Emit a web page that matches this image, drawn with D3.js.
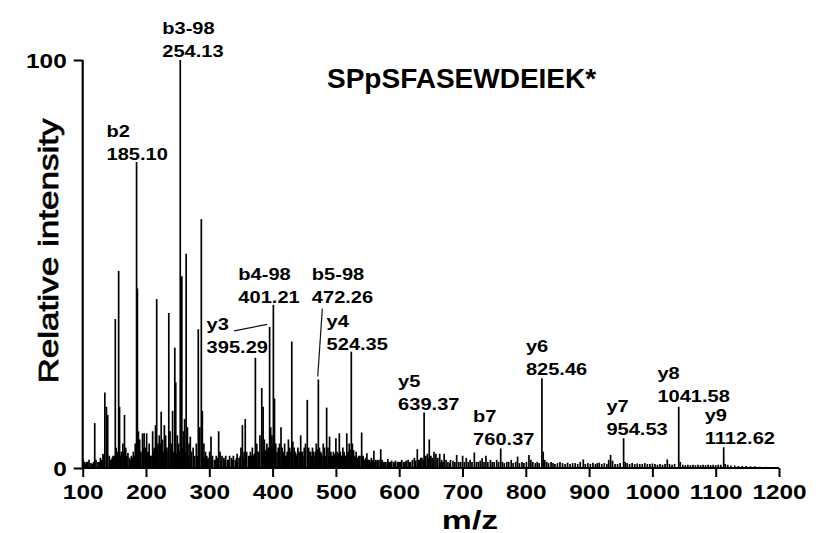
<!DOCTYPE html>
<html>
<head>
<meta charset="utf-8">
<script src="https://cdn.jsdelivr.net/npm/d3@7"></script>
<style>
  html, body { margin: 0; padding: 0; background: #fff; }
  svg { display: block; }
  text { font-family: "Liberation Sans", Arial, Helvetica, sans-serif; fill: #000; }
</style>
</head>
<body>
<svg id="chart" width="834" height="533"></svg>
<script>
// ---- spectrum data: fragment-ion m/z and relative intensity (%) ----
const peakMz = [
  101, 103, 106, 110, 113, 119, 124, 128, 132, 135, 137.5, 139.5, 142, 145, 148,
  151.5, 153, 156.8, 158.2, 161, 163.5, 166, 168, 171.5, 174, 177, 180, 183, 186.4,
  188, 190, 192, 194.5, 197, 199, 201, 203, 205, 208, 210.5, 213, 215, 216.9, 219,
  221, 224, 226, 229, 231, 233, 236, 238, 240, 242, 245.5, 247, 249.5, 251.5,
  255.5, 256.6, 259, 261, 263.4, 265.5, 268, 270, 272, 274.5, 277, 279.5, 282.6,
  285, 287.4, 289, 291.5, 294, 296, 298, 300.5, 302.7, 305, 308, 311, 314.8, 317,
  320, 323, 326, 329, 332, 335, 338, 341, 344, 347, 350, 352.3, 355, 356.8, 359,
  362, 365, 368, 370, 372.8, 375, 377, 380, 382.9, 385, 387, 389, 391, 393, 397,
  399, 403, 405, 407, 409, 411, 413.3, 415, 417, 419, 421, 423, 425, 427, 430.3,
  432, 434, 436, 438, 440, 442, 444.4, 446, 448, 450, 452, 454.8, 457, 459, 461,
  463, 465, 467, 469, 474, 476, 478, 480, 482, 485.4, 487.5, 490, 492, 494, 496,
  498, 500, 502, 505.4, 507, 509, 511, 513, 515, 517.2, 519, 521, 526, 528, 530,
  532, 534, 536, 538, 540.7, 543, 545, 547, 549, 551, 553, 556, 560, 563, 566, 568,
  570.8, 573, 576, 579, 582, 585, 588, 591, 594, 597, 600, 604, 607, 611, 614, 618,
  621, 624, 628.6, 632, 636, 642, 644.5, 647.5, 650, 652, 655, 658, 661, 664, 667,
  671, 674, 677, 681, 685, 688, 690.8, 694, 697, 700.2, 703, 706, 709, 712, 715,
  718.7, 722, 725, 728, 731, 734, 737, 740, 744, 747, 750, 754, 757, 763, 766, 770,
  773, 777, 780, 784, 787, 790, 794, 797, 801, 805, 808, 811, 815, 818, 821, 827.5,
  830, 833, 836, 840, 843, 846, 850, 854, 858, 862, 866, 870, 874, 878, 882, 886,
  890.8, 894, 898, 902, 906, 910, 913, 916, 920, 924, 928, 931, 934, 937, 941, 945,
  949, 957, 960, 964, 968, 972, 976, 980, 984, 988, 992, 996, 1000, 1004, 1008,
  1012, 1016, 1020, 1023.5, 1027, 1031, 1035, 1044, 1048, 1052, 1056, 1060, 1064,
  1068, 1072, 1076, 1080, 1084, 1088, 1092, 1096, 1100, 1104, 1108, 1115, 1119,
  1124, 1130, 1136, 1142, 1148, 1155, 1162, 1170, 1180,
  // low-level background ions between the major fragments
  104, 108, 115, 117, 121, 126, 130, 133.5, 143.5, 146.5, 150, 154.5, 160, 165,
  169.5, 175.5, 178.5, 181.5, 191, 196, 200, 204, 207, 212, 218, 223, 228, 232,
  235, 239, 244, 248.5, 253, 258, 262, 267, 271, 276, 281, 284, 290, 293, 297,
  303.5, 309.5, 313, 319, 324.5, 330.5, 336.5, 343, 349, 353.5, 358, 364, 367,
  371, 374, 378.5, 384, 388, 392, 394, 398, 400, 404, 410, 414, 418, 422, 426,
  429, 435, 439, 443, 447, 451, 456, 460, 464, 468, 471, 473, 477, 481, 484,
  489, 493, 497, 501, 504, 508, 512, 516, 520, 523, 525, 529, 533, 537, 541.8,
  546, 550, 555, 558, 562, 565, 572, 575, 578, 583, 587, 593, 599, 602, 609,
  616, 626, 630, 634, 638, 641, 646, 649, 654, 660, 666, 669, 680
];
const peakIntensity = [
  2, 1.5, 1.5, 2, 1.2, 11, 1.5, 2.5, 3.5, 18.5, 15, 13, 3, 2, 3,
  36.5, 5, 48.3, 15, 4, 6, 13, 5, 3.7, 2.5, 3, 4, 6, 44,
  9, 7, 4, 8.5, 8.5, 5, 8.5, 4, 6, 3, 9, 5, 10.5, 41.4, 6,
  8, 13.8, 7, 10.5, 8, 5, 38, 9, 6, 14, 29.5, 21, 8, 6,
  16.6, 47, 9, 12, 52.5, 10, 6, 7.7, 4, 5, 3, 6, 34,
  10, 61, 14, 6, 4, 3, 2.5, 4, 7.7, 3, 2, 3, 9, 4,
  3, 2.5, 3, 2, 3, 2.5, 3, 2, 3.5, 2.5, 5, 10.5, 4, 12, 4,
  3, 4, 5, 3, 27, 6, 4, 8, 19.6, 15, 7, 4, 6, 5, 10,
  8, 17, 6, 4, 5, 6, 10, 5, 4, 6, 3, 4, 7, 5, 31,
  6.5, 5, 4, 3, 5, 4, 8, 4, 3, 5, 6, 16.7, 5, 4, 3,
  5, 4, 3, 6, 5, 4, 3, 6, 5, 14.8, 5, 7.7, 4, 3, 4,
  3, 7.3, 4, 8.5, 4, 3, 5, 4, 3, 8.5, 4, 6, 6, 4.4, 3,
  4, 2.5, 3, 3, 8.7, 3, 2, 2.5, 3.6, 2, 2, 2.5, 4.2, 2, 2, 2,
  4.6, 2, 1.5, 1.5, 2.2, 1.5, 1.8, 1.5, 1.8, 1.5, 1.5, 2, 1.5, 1.8, 2, 1.5,
  2, 2.5, 4.6, 2, 2.5, 3, 3.5, 7, 3, 2.5, 4, 3.5, 2.5, 3.5, 2,
  3.5, 2, 1.5, 2, 1.8, 1.5, 3.2, 1.5, 1.5, 3, 1.5, 2.5, 1.5, 2, 1.5,
  3.8, 1.5, 1.5, 1.8, 2.4, 1.5, 3, 1.5, 2, 1.5, 1.5, 2, 1.5, 1.5, 1.2, 1.5,
  1.5, 2, 1.2, 1.5, 2.8, 1.2, 1.5, 1.2, 1.5, 3.2, 2, 1.5, 1.2, 1.5, 1.2, 4,
  2, 1.5, 1.2, 1.5, 1.2, 1, 1.2, 1.5, 1.2, 1, 1.3, 1, 1.2, 1.2, 1, 1.5,
  2.1, 1, 1.2, 1, 1.3, 1, 1.2, 1.3, 1, 1.2, 1, 2, 3.2, 1.8, 1, 1,
  1.2, 1.5, 1.2, 1, 1.2, 1, 1.1, 1, 1, 1.2, 1, 1, 1.1, 1, 0.8,
  1, 0.8, 1, 2.1, 1, 0.8, 1, 1.5, 0.8, 0.7, 0.8, 0.7, 0.8,
  0.7, 0.8, 0.7, 0.8, 0.7, 0.8, 0.7, 0.8, 0.7, 0.8, 0.8, 1, 0.8,
  0.6, 0.6, 0.5, 0.5, 0.5, 0.4, 0.4, 0.3, 0.3,
  1, 1.5, 1, 1.5, 2, 1.5, 2, 3, 2, 2.5, 3, 4, 3, 4,
  3, 2, 2.5, 3, 4, 5, 4, 3.5, 3, 4, 5, 6, 4, 5,
  4, 5, 4, 3.5, 4, 5, 4, 3, 3.5, 2.5, 3, 4, 3, 2.5, 2,
  2.5, 2, 2.5, 2, 2, 2, 2, 2.5, 3, 2.5, 3.5, 3, 3,
  3.5, 3, 4, 4, 4.5, 4, 5, 4.5, 5, 4, 4, 3.5, 3.5, 3, 4,
  4, 3.5, 3.5, 3, 4, 3.5, 3.5, 4, 3, 4, 4.5, 4, 3.5, 3.5, 3,
  3, 3, 3.5, 3, 3.5, 3, 3, 3, 4, 4.5, 3, 2.5, 2.5, 2, 2.5,
  2, 2, 1.5, 2, 1.5, 1.8, 1.5, 1.5, 1.5, 1.5, 1.5, 1.2, 1.5, 1.5, 1.5,
  1.5, 1.8, 2, 2.5, 2, 2, 2.5, 2, 2, 2, 1.5, 1.5, 1.2
];

// ---- annotated fragment ions ----
const ionNames = ["b2", "b3-98", "y3", "b4-98", "b5-98", "y4", "y5", "b7", "y6", "y7", "y8", "y9"];
const ionMz = [185.10, 254.13, 395.29, 401.21, 472.26, 524.35, 639.37, 760.37, 825.46, 954.53, 1041.58, 1112.62];
const ionIntensity = [75, 100, 34.6, 40, 21.7, 28.5, 13.6, 4.8, 22, 7.3, 15, 5.1];

// ---- axes ----
const xTicks = [100, 200, 300, 400, 500, 600, 700, 800, 900, 1000, 1100, 1200];
const yTicks = [0, 100];
const peptide = "SPpSFASEWDEIEK*";
const xTitle = "m/z";
const yTitle = "Relative intensity";

// label placement for each ion: text left edge relative to the peak (dx),
// lower-line baseline relative to peak top (dy), optional leader line
const labelLayout = {
  "b2":    { dx: -30, dy: -2 },
  "b3-98": { dx: -18, dy: -3 },
  "y3":    { dx: -63, dy: 26, leader: [[-35.5, 4], [-2.5, -2.5]] },
  "b4-98": { dx: -35, dy: -2 },
  "b5-98": { dx: -6.5, dy: -76.5, leader: [[4, -71], [-0.6, -3]] },
  "y4":    { dx: -24.7, dy: -1.7 },
  "y5":    { dx: -26, dy: -2.5 },
  "b7":    { dx: -27.6, dy: -3.4 },
  "y6":    { dx: -16, dy: -3.2 },
  "y7":    { dx: -17.2, dy: -3.2 },
  "y8":    { dx: -21.3, dy: -4.8 },
  "y9":    { dx: -19, dy: -3.2 }
};

const svg = d3.select("#chart");
const plot = { left: 82.7, right: 779, top: 60, bottom: 468 };

const x = d3.scaleLinear().domain([100, 1200]).range([plot.left, plot.right]);
const y = d3.scaleLinear().domain([0, 100]).range([plot.bottom, plot.top]);

// stretched text helper (the figure's lettering is set wide)
function wideText(g, str, px, py, opts) {
  const sx = opts.sx || 1;
  const t = g.append("text")
    .attr("transform", `translate(${px},${py})${opts.rotate ? ` rotate(${opts.rotate})` : ""} scale(${sx},1)`)
    .attr("text-anchor", opts.anchor || "start")
    .style("font-size", opts.size + "px")
    .style("font-weight", opts.weight || "bold")
    .text(str);
  if (opts.stroke) t.attr("stroke", "#000").attr("stroke-width", opts.stroke);
  return t;
}

// ---- spectrum sticks ----
const peaks = peakMz.map((m, i) => ({ mz: m, v: peakIntensity[i] }));
const ions = ionMz.map((m, i) => ({ name: ionNames[i], mz: m, v: ionIntensity[i] }));

svg.append("g")
  .selectAll("line")
  .data(peaks.concat(ions))
  .join("line")
  .attr("x1", d => x(d.mz)).attr("x2", d => x(d.mz))
  .attr("y1", y(0)).attr("y2", d => y(d.v))
  .attr("stroke", "#000")
  .attr("stroke-width", 1.7);

// ---- axes ----
const xAxis = d3.axisBottom(x).tickValues(xTicks).tickSize(9).tickFormat(d3.format("d"));
const gx = svg.append("g").attr("transform", `translate(0,${plot.bottom})`).call(xAxis);
gx.select(".domain").attr("stroke", "#000").attr("stroke-width", 2.2)
  .attr("d", `M${plot.left},0H${plot.right}`);
gx.selectAll(".tick line").attr("stroke", "#000").attr("stroke-width", 2);
gx.selectAll(".tick text").remove();
gx.selectAll(".tick").each(function (d) {
  wideText(d3.select(this), String(d), 0, 31, { size: 20, sx: 1.22, anchor: "middle" });
});

const yAxis = d3.axisLeft(y).tickValues(yTicks).tickSize(9);
const gy = svg.append("g").attr("transform", `translate(${plot.left},0)`).call(yAxis);
gy.select(".domain").attr("stroke", "#000").attr("stroke-width", 2.2)
  .attr("d", `M0,${plot.top}V${plot.bottom}`);
gy.selectAll(".tick line").attr("stroke", "#000").attr("stroke-width", 2);
gy.selectAll(".tick text").remove();
gy.selectAll(".tick").each(function (d) {
  wideText(d3.select(this), String(d), -16, 7.5, { size: 20, sx: 1.22, anchor: "end" });
});

// axis titles
wideText(svg, xTitle, 470, 529, { size: 26, sx: 1.3, anchor: "middle" });
wideText(svg, yTitle, 58, 251, { size: 27, sx: 1.3, anchor: "middle", rotate: -90, weight: "normal", stroke: 0.7 });

// peptide sequence
wideText(svg, peptide, 327, 88, { size: 28, sx: 1.0 });

// ---- ion annotations ----
const lab = svg.append("g");
ions.forEach(ion => {
  const L = labelLayout[ion.name];
  const px = x(ion.mz), top = y(ion.v);
  const tx = px + L.dx, base2 = top + L.dy;
  wideText(lab, ion.name, tx, base2 - 23, { size: 17, sx: 1.18 });
  wideText(lab, ion.mz.toFixed(2), tx, base2, { size: 17, sx: 1.18 });
  if (L.leader) {
    lab.append("line")
      .attr("x1", px + L.leader[0][0]).attr("y1", top + L.leader[0][1])
      .attr("x2", px + L.leader[1][0]).attr("y2", top + L.leader[1][1])
      .attr("stroke", "#111").attr("stroke-width", 1.2);
  }
});
</script>
</body>
</html>
